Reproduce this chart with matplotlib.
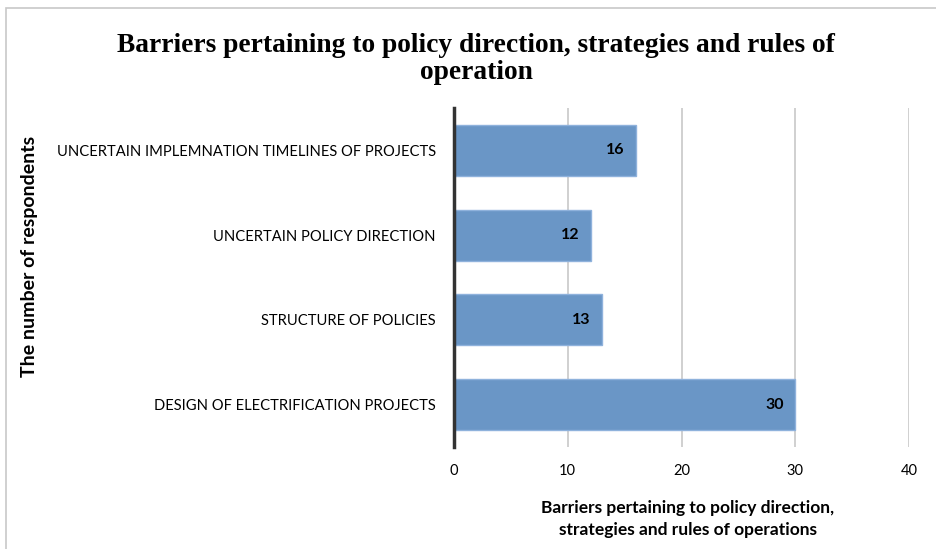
import matplotlib
matplotlib.use("Agg")
import matplotlib.pyplot as plt
from matplotlib.patches import Rectangle

categories = ["DESIGN OF ELECTRIFICATION PROJECTS", "STRUCTURE OF POLICIES",
              "UNCERTAIN POLICY DIRECTION", "UNCERTAIN IMPLEMNATION TIMELINES OF PROJECTS"]
values = [30, 13, 12, 16]
xticks = [0, 10, 20, 30, 40]

W, H = 937, 549
fig = plt.figure(figsize=(W/100, H/100), dpi=100)
ax = fig.add_axes([454/W, 1-447/H, (909-454)/W, (447-108)/H])

ypos = list(range(len(categories)))
bars = ax.barh(ypos, values, height=0.6, color="#6A96C6", edgecolor="#8FB2DC", linewidth=1, zorder=3)
for y, v in zip(ypos, values):
    ax.text(v - 1.0, y, str(v), ha="right", va="center", fontsize=11.5,
            fontweight="bold", family="Lato", color="black", zorder=4)

ax.set_xlim(0, 40)
ax.set_ylim(-0.5, 3.5)
ax.set_xticks(xticks)
ax.set_xticklabels([str(t) for t in xticks], family="Lato", fontsize=10.5)
ax.set_yticks(ypos)
ax.set_yticklabels(categories, family="Lato", fontsize=10.6)
ax.tick_params(axis="x", length=0, pad=12)
ax.tick_params(axis="y", length=0, pad=13)
ax.grid(axis="x", color="#C8C8C8", linewidth=1.2, zorder=0)
for s in ["top", "right", "bottom"]:
    ax.spines[s].set_visible(False)
ax.spines["left"].set_color("#333333")
ax.spines["left"].set_linewidth(2.5)
ax.spines["left"].set_zorder(5)

fig.text(476/W, 1-59/H, "Barriers pertaining to policy direction, strategies and rules of\noperation",
         ha="center", va="center", family="Liberation Serif", fontweight="bold",
         fontsize=19.8, linespacing=1.1)
fig.text(688/W, 1-519/H, "Barriers pertaining to policy direction,\nstrategies and rules of operations",
         ha="center", va="center", family="Lato", fontweight="bold", fontsize=12.5, linespacing=1.45)
fig.text(30/W, 1-256/H, "The number of respondents", rotation=90, ha="center", va="center",
         family="Lato", fontweight="bold", fontsize=14)

fig.patches.append(Rectangle((6/W, -0.1), 1.2, 1 - 8/H + 0.1, transform=fig.transFigure,
                             fill=False, edgecolor="#C8C8C8", linewidth=1.2))

fig.savefig("out.png", dpi=100)
